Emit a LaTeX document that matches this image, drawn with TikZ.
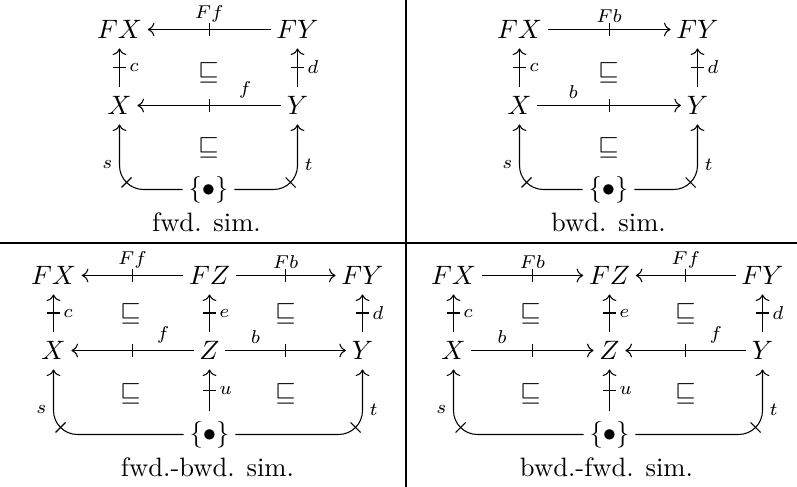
\documentclass[tikz,border=0pt]{standalone}
\usetikzlibrary{arrows.meta, calc, decorations.markings}

\begin{document}
\begin{tikzpicture}[
  x=0.376pt, y=-0.376pt,
  obj/.style={inner xsep=2pt, inner ysep=3.5pt},
  kl/.style={-{Computer Modern Rightarrow}, line width=0.4pt,
    postaction={decorate, decoration={markings,
      mark=at position 0.5 with {\draw[-, line width=0.4pt] (0,-2.3pt) -- (0,2.3pt);}}}},
  leg/.style={-{Computer Modern Rightarrow}, line width=0.4pt, rounded corners=9pt},
  lbl/.style={font=\scriptsize, inner sep=1.5pt},
  caption/.style={anchor=base, inner sep=0pt}
]
  \useasboundingbox (0,0) rectangle (797,487);

  % legs from the point to the two base objects
  \def\legs#1#2#3{%
    \draw[leg] (#1) -| node[lbl, pos=0.69, left=1pt]{$s$} (#2);
    \draw[leg] (#1) -| node[lbl, pos=0.69, right=1pt]{$t$} (#3);
    \draw[line width=0.4pt] ($(#2 |- #1)+(7,-7)$) ++(-5,5) -- ++(10,-10);
    \draw[line width=0.4pt] ($(#3 |- #1)+(-7,-7)$) ++(5,5) -- ++(-10,-10);
  }

  % table rules
  \draw[line width=0.4pt] (0,243) -- (797,243);
  \draw[line width=0.4pt] (406,0) -- (406,487);

  \begin{scope}[shift={(0.5,0.5)}]
  % fwd. sim.
  \node[obj] (aFX) at (119,29) {$FX$};
  \node[obj] (aFY) at (297,29) {$FY$};
  \node[obj] (aX) at (119,105) {$X$};
  \node[obj] (aY) at (297,105) {$Y$};
  \node[obj] (apt) at (208,189) {$\{\bullet\}$};
  \draw[kl] (aFY) -- node[midway, lbl, above=1pt]{$Ff$} (aFX);
  \draw[kl] (aY) -- node[pos=0.25, lbl, above=1pt]{$f$} (aX);
  \draw[kl] (aX) -- node[midway, lbl, right=2pt]{$c$} (aFX);
  \draw[kl] (aY) -- node[midway, lbl, right=2pt]{$d$} (aFY);
  \legs{apt}{aX}{aY}
  \node (asq1) at (208,72) {$\sqsubseteq$};
  \node (asq2) at (208,147) {$\sqsubseteq$};
  \node[caption] (acap) at (206,231) {fwd. sim.};

  % bwd. sim.
  \node[obj] (bFX) at (519,29) {$FX$};
  \node[obj] (bFY) at (697,29) {$FY$};
  \node[obj] (bX) at (519,105) {$X$};
  \node[obj] (bY) at (697,105) {$Y$};
  \node[obj] (bpt) at (608,189) {$\{\bullet\}$};
  \draw[kl] (bFX) -- node[midway, lbl, above=1pt]{$Fb$} (bFY);
  \draw[kl] (bX) -- node[pos=0.25, lbl, above=1pt]{$b$} (bY);
  \draw[kl] (bX) -- node[midway, lbl, right=2pt]{$c$} (bFX);
  \draw[kl] (bY) -- node[midway, lbl, right=2pt]{$d$} (bFY);
  \legs{bpt}{bX}{bY}
  \node (bsq1) at (608,72) {$\sqsubseteq$};
  \node (bsq2) at (608,147) {$\sqsubseteq$};
  \node[caption] (bcap) at (608,231) {bwd. sim.};

  % fwd.-bwd. sim.
  \node[obj] (cFX) at (53,275) {$FX$};
  \node[obj] (cFZ) at (209,275) {$FZ$};
  \node[obj] (cFY) at (362,275) {$FY$};
  \node[obj] (cX) at (53,350) {$X$};
  \node[obj] (cZ) at (209,350) {$Z$};
  \node[obj] (cY) at (362,350) {$Y$};
  \node[obj] (cpt) at (209,434) {$\{\bullet\}$};
  \draw[kl] (cFZ) -- node[midway, lbl, above=1pt]{$Ff$} (cFX);
  \draw[kl] (cFZ) -- node[midway, lbl, above=1pt]{$Fb$} (cFY);
  \draw[kl] (cZ) -- node[pos=0.25, lbl, above=1pt]{$f$} (cX);
  \draw[kl] (cZ) -- node[pos=0.25, lbl, above=1pt]{$b$} (cY);
  \draw[kl] (cX) -- node[midway, lbl, right=2pt]{$c$} (cFX);
  \draw[kl] (cZ) -- node[midway, lbl, right=2pt]{$e$} (cFZ);
  \draw[kl] (cY) -- node[midway, lbl, right=2pt]{$d$} (cFY);
  \draw[kl] (cpt) -- node[midway, lbl, right=2pt]{$u$} (cZ);
  \legs{cpt}{cX}{cY}
  \node (csq1) at (130,313) {$\sqsubseteq$};
  \node (csq2) at (285,313) {$\sqsubseteq$};
  \node (csq3) at (130,393) {$\sqsubseteq$};
  \node (csq4) at (285,393) {$\sqsubseteq$};
  \node[caption] (ccap) at (207,476) {fwd.-bwd. sim.};

  % bwd.-fwd. sim.
  \node[obj] (dFX) at (453,275) {$FX$};
  \node[obj] (dFZ) at (609,275) {$FZ$};
  \node[obj] (dFY) at (762,275) {$FY$};
  \node[obj] (dX) at (453,350) {$X$};
  \node[obj] (dZ) at (609,350) {$Z$};
  \node[obj] (dY) at (762,350) {$Y$};
  \node[obj] (dpt) at (609,434) {$\{\bullet\}$};
  \draw[kl] (dFX) -- node[midway, lbl, above=1pt]{$Fb$} (dFZ);
  \draw[kl] (dFY) -- node[midway, lbl, above=1pt]{$Ff$} (dFZ);
  \draw[kl] (dX) -- node[pos=0.25, lbl, above=1pt]{$b$} (dZ);
  \draw[kl] (dY) -- node[pos=0.25, lbl, above=1pt]{$f$} (dZ);
  \draw[kl] (dX) -- node[midway, lbl, right=2pt]{$c$} (dFX);
  \draw[kl] (dZ) -- node[midway, lbl, right=2pt]{$e$} (dFZ);
  \draw[kl] (dY) -- node[midway, lbl, right=2pt]{$d$} (dFY);
  \draw[kl] (dpt) -- node[midway, lbl, right=2pt]{$u$} (dZ);
  \legs{dpt}{dX}{dY}
  \node (dsq1) at (530,313) {$\sqsubseteq$};
  \node (dsq2) at (685,313) {$\sqsubseteq$};
  \node (dsq3) at (530,393) {$\sqsubseteq$};
  \node (dsq4) at (685,393) {$\sqsubseteq$};
  \node[caption] (dcap) at (606,476) {bwd.-fwd. sim.};
  \end{scope}
\end{tikzpicture}
\end{document}
